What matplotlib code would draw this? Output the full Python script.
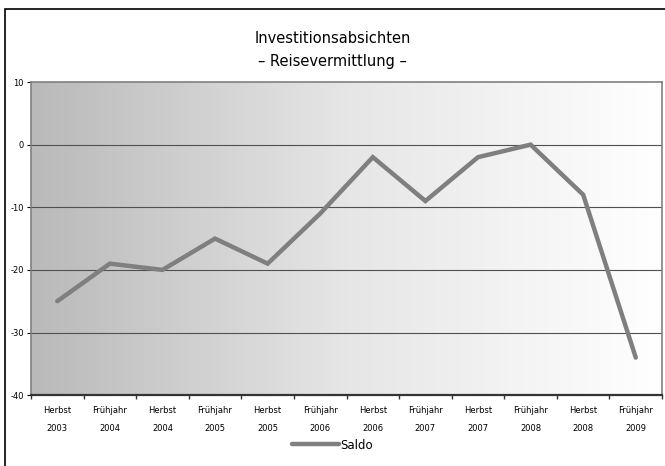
import numpy as np
import matplotlib.pyplot as plt
from matplotlib.colors import LinearSegmentedColormap
from matplotlib.patches import Rectangle

# Daten
kategorien = ['Herbst\n2003', 'Frühjahr\n2004', 'Herbst\n2004', 'Frühjahr\n2005',
              'Herbst\n2005', 'Frühjahr\n2006', 'Herbst\n2006', 'Frühjahr\n2007',
              'Herbst\n2007', 'Frühjahr\n2008', 'Herbst\n2008', 'Frühjahr\n2009']
saldo = [-25, -19, -20, -15, -19, -11, -2, -9, -2, 0, -8, -34]
y_ticks = [10, 0, -10, -20, -30, -40]

fig = plt.figure(figsize=(6.65, 4.66), dpi=100)
fig.patches.append(Rectangle((0.008, -0.05), 1.1, 1.03, transform=fig.transFigure,
                             fill=False, edgecolor='black', linewidth=1.2))

ax = fig.add_axes([0.0466, 0.152, 0.949, 0.672])

# Farbverlauf im Hintergrund
grad = np.linspace(0, 1, 256).reshape(1, -1)
cmap = LinearSegmentedColormap.from_list('grau', ['#b9b9b9', '#e6e6e6', '#ffffff'])
ax.imshow(grad, extent=[0, 1, 0, 1], transform=ax.transAxes, aspect='auto',
          cmap=cmap, zorder=0)

x = np.arange(len(kategorien))
ax.plot(x, saldo, color='#7f7f7f', linewidth=3.2, solid_capstyle='round',
        solid_joinstyle='miter', zorder=3, label='Saldo')

ax.set_xlim(-0.5, len(kategorien) - 0.5)
ax.set_ylim(-40, 10)
ax.set_yticks(y_ticks)
ax.set_yticklabels([str(v) for v in y_ticks], fontsize=6)
for v in y_ticks[1:-1]:
    ax.axhline(v, color='#505050', linewidth=0.8, zorder=1)

ax.set_xticks(x)
ax.set_xticklabels(kategorien, fontsize=6, linespacing=2.3)
ax.set_xticks(np.arange(-0.5, len(kategorien)), minor=True)
ax.tick_params(axis='x', which='major', length=0, pad=8)
ax.tick_params(axis='x', which='minor', length=3, width=1, color='#333333')
ax.tick_params(axis='y', length=3, width=0.8, pad=2)

for s in ['top', 'right', 'left']:
    ax.spines[s].set_color('#808080')
    ax.spines[s].set_linewidth(1.2)
ax.spines['bottom'].set_color('#333333')
ax.spines['bottom'].set_linewidth(1.6)

fig.text(0.5, 0.918, 'Investitionsabsichten', ha='center', va='center', fontsize=10.5)
fig.text(0.5, 0.868, '– Reisevermittlung –', ha='center', va='center', fontsize=10.5)

fig.legend(loc='center', bbox_to_anchor=(0.5, 0.045), frameon=False, fontsize=8.5,
           handlelength=4, handletextpad=0.1)

fig.savefig('out.png', dpi=100)
